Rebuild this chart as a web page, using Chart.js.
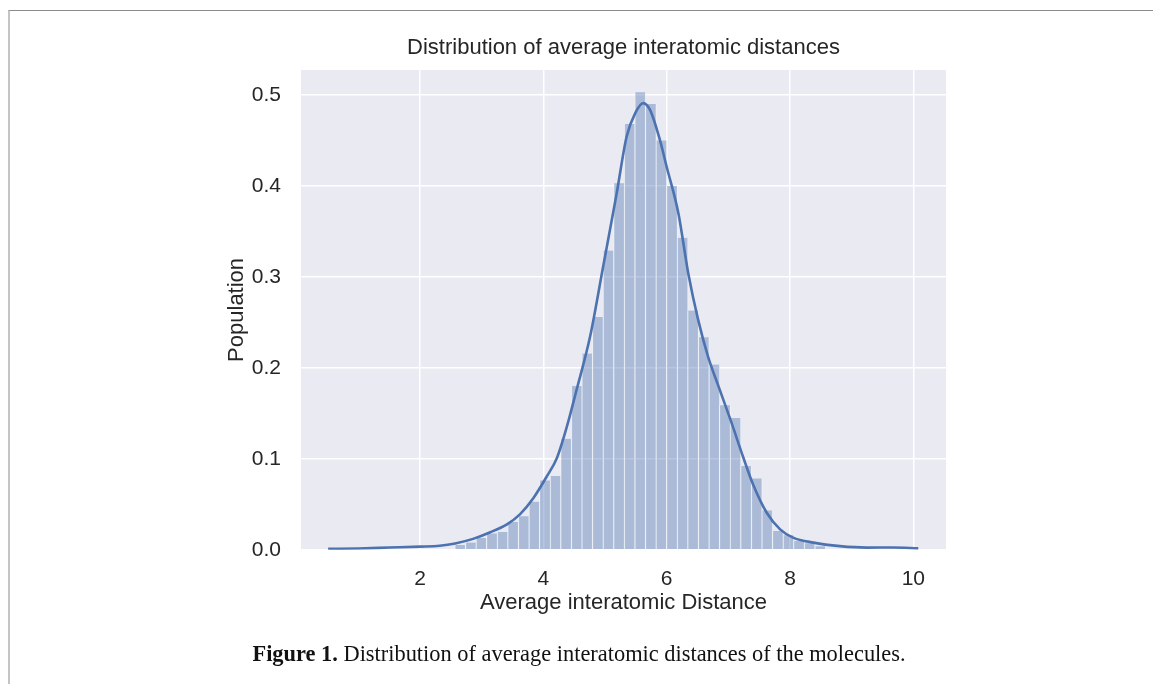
<!DOCTYPE html>
<html>
<head>
<meta charset="utf-8">
<script src="https://cdn.jsdelivr.net/npm/chart.js@4"></script>
<style>
  body { margin: 0; background: #fff; }
  #page { position: relative; width: 1153px; height: 684px; overflow: hidden; }
  #frame { position: absolute; left: 8px; top: 10px; right: -10px; bottom: -10px;
           border-top: 1px solid #8c8c8c; border-left: 2px solid #c4c4c4; }
  #wrap { position: absolute; left: 0; top: 0; width: 1153px; height: 684px; }
  #caption { position: absolute; left: 0; width: 1158px; top: 641px; text-align: center;
             font-family: "Liberation Serif", "Times New Roman", serif; font-size: 22.4px; color: #111; }
</style>
</head>
<body>
<div id="page">
  <div id="frame"></div>
  <div id="wrap"><canvas id="chart"></canvas></div>
  <div id="caption"><b>Figure 1.</b> Distribution of average interatomic distances of the molecules.</div>
</div>
<script>
// histogram bins (centre of each bin) and bar heights
const binCenters = [2.653, 2.825, 2.996, 3.168, 3.340, 3.511, 3.683, 3.855, 4.027, 4.198,
                    4.370, 4.542, 4.713, 4.885, 5.057, 5.229, 5.400, 5.572, 5.744, 5.915,
                    6.087, 6.259, 6.430, 6.602, 6.774, 6.946, 7.117, 7.289, 7.461, 7.632,
                    7.804, 7.976, 8.147, 8.319, 8.491];
const binHeights = [0.0053, 0.0079, 0.013, 0.018, 0.0196, 0.0305, 0.0368, 0.0529, 0.0763, 0.081,
                    0.122, 0.180, 0.2157, 0.256, 0.329, 0.403, 0.468, 0.503, 0.490, 0.450,
                    0.400, 0.343, 0.263, 0.2336, 0.2036, 0.159, 0.145, 0.092, 0.0785, 0.0433,
                    0.0207, 0.016, 0.0097, 0.0071, 0.004];

// KDE curve
const kdeX = [0.51, 1.0, 1.5, 2.0, 2.32, 2.57, 2.86, 3.13, 3.41, 3.62,
              3.84, 4.05, 4.22, 4.38, 4.54, 4.76, 4.97, 5.19, 5.35, 5.49,
              5.62, 5.73, 5.89, 6.0, 6.19, 6.35, 6.51, 6.67, 6.85, 7.05,
              7.24, 7.40, 7.62, 7.84, 8.05, 8.38, 8.81, 9.24, 9.67, 10.08];
const kdeY = [0.001, 0.0015, 0.0025, 0.0035, 0.0045, 0.007, 0.012, 0.019, 0.028, 0.039,
              0.057, 0.080, 0.101, 0.135, 0.176, 0.235, 0.3115, 0.392, 0.454, 0.480,
              0.491, 0.4835, 0.4506, 0.421, 0.370, 0.304, 0.253, 0.2127, 0.178, 0.140,
              0.102, 0.072, 0.041, 0.0225, 0.0134, 0.0079, 0.004, 0.0024, 0.0025, 0.0016];

const xTicks = [2, 4, 6, 8, 10];
const yTicks = [0.0, 0.1, 0.2, 0.3, 0.4, 0.5];

const FONT = '"Liberation Sans", Arial, sans-serif';
const TEXT = '#262626';

const plotBg = {
    id: 'plotBg',
    beforeDraw(chart) {
        const a = chart.chartArea;
        const ctx = chart.ctx;
        ctx.save();
        ctx.fillStyle = '#EAEAF2';
        ctx.fillRect(a.left, a.top, a.right - a.left, a.bottom - a.top);
        ctx.restore();
    }
};

new Chart(document.getElementById('chart'), {
    type: 'bar',
    data: {
        datasets: [
            {
                type: 'line',
                data: kdeX.map((x, i) => ({ x: x, y: kdeY[i] })),
                borderColor: '#4C72B0',
                borderWidth: 2.6,
                pointRadius: 0,
                cubicInterpolationMode: 'monotone',
                order: 0,
            },
            {
                type: 'bar',
                data: binCenters.map((x, i) => ({ x: x, y: binHeights[i] })),
                backgroundColor: 'rgba(76, 114, 176, 0.4)',
                borderColor: 'rgba(255, 255, 255, 0.9)',
                borderWidth: { left: 0.6, right: 0.6, top: 0, bottom: 0 },
                borderSkipped: false,
                barPercentage: 1,
                categoryPercentage: 1,
                order: 1,
            },
        ],
    },
    options: {
        responsive: true,
        maintainAspectRatio: false,
        animation: false,
        layout: { padding: { left: 220, right: 207, top: 35, bottom: 64 } },
        plugins: {
            legend: { display: false },
            tooltip: { enabled: false },
            title: {
                display: true,
                text: 'Distribution of average interatomic distances',
                fullSize: false,
                color: TEXT,
                font: { family: FONT, size: 22, weight: 'normal' },
                padding: { top: 0, bottom: 8.6 },
            },
        },
        scales: {
            x: {
                type: 'linear',
                min: 0.07,
                max: 10.53,
                offset: false,
                afterBuildTicks: s => { s.ticks = xTicks.map(v => ({ value: v })); },
                afterFit: s => { s.height = 70.2; },
                grid: { color: '#ffffff', lineWidth: 1.5, drawTicks: false, offset: false },
                border: { display: false },
                ticks: { color: TEXT, padding: 17, font: { family: FONT, size: 21 } },
                title: {
                    display: true,
                    text: 'Average interatomic Distance',
                    color: TEXT,
                    font: { family: FONT, size: 22 },
                },
            },
            y: {
                min: 0,
                max: 0.5274,
                afterBuildTicks: s => { s.ticks = yTicks.map(v => ({ value: v })); },
                afterFit: s => { s.width = 81; },
                grid: { color: '#ffffff', lineWidth: 1.5, drawTicks: false },
                border: { display: false },
                ticks: {
                    color: TEXT,
                    padding: 20,
                    font: { family: FONT, size: 21 },
                    callback: v => v.toFixed(1),
                },
                title: {
                    display: true,
                    text: 'Population',
                    color: TEXT,
                    font: { family: FONT, size: 22 },
                },
            },
        },
    },
    plugins: [plotBg],
});
</script>
</body>
</html>
